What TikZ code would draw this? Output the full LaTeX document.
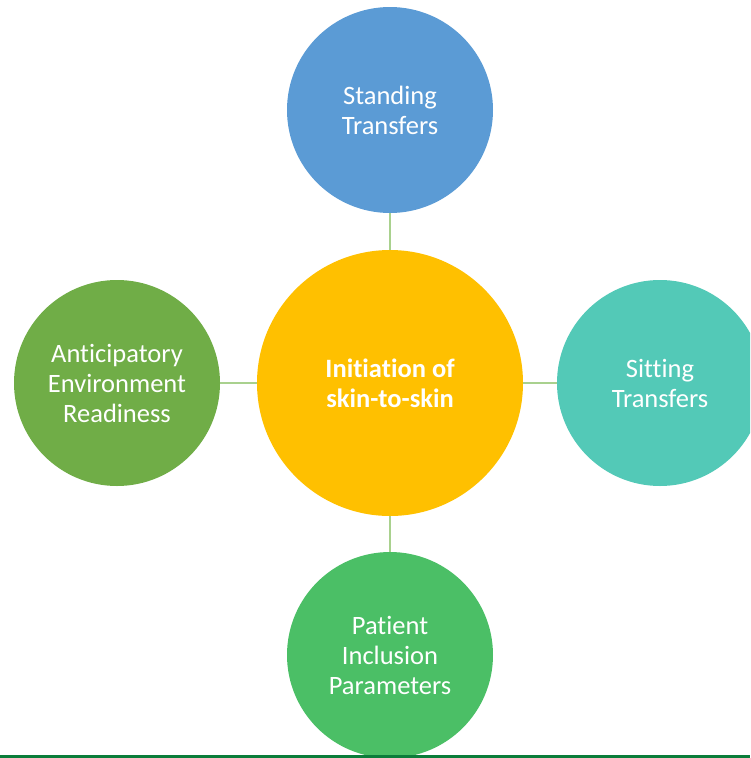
\documentclass[tikz,border=0pt]{standalone}
\usepackage{fontspec}
\setmainfont{Carlito}[Ligatures=NoCommon]
\definecolor{topblue}{HTML}{5B9BD5}
\definecolor{midgold}{HTML}{FFC000}
\definecolor{leftgreen}{HTML}{70AD47}
\definecolor{rightteal}{HTML}{53C9B7}
\definecolor{lowgreen}{HTML}{4BBF66}
\definecolor{linkgreen}{HTML}{A9D18E}
\definecolor{rulegreen}{HTML}{0B7D3A}
\tikzset{
  bubble/.style={circle,inner sep=0pt,minimum size=206pt,text=white,
    align=center,font=\fontsize{26.5}{30}\selectfont},
  link/.style={draw=linkgreen,line width=2pt}
}
\begin{document}
\begin{tikzpicture}[x=1pt,y=-1pt]
\useasboundingbox (0,0) rectangle (750,758);
\clip (0,0) rectangle (750,758);
\node[bubble,minimum size=266pt,fill=midgold,font=\fontsize{26.5}{30}\selectfont\bfseries] (core) at (390,383) {Initiation of\\skin-to-skin};
\node[bubble,fill=topblue] (stand) at (390,110) {Standing\\Transfers};
\node[bubble,fill=leftgreen] (ready) at (117,383) {Anticipatory\\Environment\\Readiness};
\node[bubble,fill=rightteal] (sit) at (660,383) {Sitting\\Transfers};
\node[bubble,fill=lowgreen] (incl) at (390,655) {Patient\\Inclusion\\Parameters};
\foreach \n in {stand,ready,sit,incl}
\draw[link] (\n) -- (core);
\fill[rulegreen] (0,755) rectangle (750,758);
\end{tikzpicture}
\end{document}
